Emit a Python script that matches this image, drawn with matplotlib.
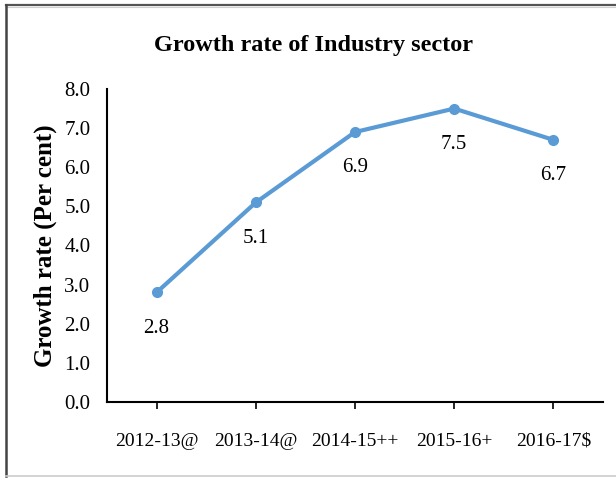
import matplotlib
matplotlib.use("Agg")
import matplotlib.pyplot as plt
from matplotlib.lines import Line2D

categories = ["2012-13@", "2013-14@", "2014-15++", "2015-16+", "2016-17$"]
values = [2.8, 5.1, 6.9, 7.5, 6.7]
yticks = [0.0, 1.0, 2.0, 3.0, 4.0, 5.0, 6.0, 7.0, 8.0]

plt.rcParams['font.family'] = ['Liberation Serif', 'DejaVu Serif']

W, H = 616, 478
fig = plt.figure(figsize=(W/100, H/100), dpi=100)
ax = fig.add_axes([107/W, 1 - 402/H, (603-107)/W, (402-89)/H])

def fx(px):
    return px / W

def fy(py):
    return 1 - py / H

# figure border (frame of the embedded chart)
fig.add_artist(Line2D([fx(6), fx(616)], [fy(5), fy(5)], transform=fig.transFigure,
                      color='#555555', linewidth=1.6))
fig.add_artist(Line2D([fx(6), fx(616)], [fy(7), fy(7)], transform=fig.transFigure,
                      color='#d0d0d0', linewidth=0.8))
fig.add_artist(Line2D([fx(6), fx(6)], [fy(5), fy(476)], transform=fig.transFigure,
                      color='#444444', linewidth=1.8))
fig.add_artist(Line2D([fx(6), fx(616)], [fy(476), fy(476)], transform=fig.transFigure,
                      color='#cccccc', linewidth=1.2))

x = list(range(len(categories)))
line_color = '#5B9BD5'
ax.plot(x, values, color=line_color, linewidth=3, marker='o', markersize=7, zorder=3,
        clip_on=False)
for xi, v in zip(x, values):
    ax.annotate(f"{v:.1f}", (xi, v), xytext=(0, -29), textcoords='offset points',
                ha='center', va='baseline', fontsize=15)

ax.set_xlim(-0.5, 4.5)
ax.set_ylim(0, 8)
ax.set_yticks(yticks)
ax.set_yticklabels([f"{t:.1f}" for t in yticks], fontsize=15)
ax.set_xticks(x)
ax.set_xticklabels(categories, fontsize=14)
ax.tick_params(axis='y', length=0, pad=12)
ax.tick_params(axis='x', length=5, width=1.2, direction='out', pad=17)
for s in ['top', 'right']:
    ax.spines[s].set_visible(False)
for s in ['left', 'bottom']:
    ax.spines[s].set_linewidth(1.5)

ax.set_ylabel("Growth rate (Per cent)", fontsize=18, fontweight='bold', labelpad=5)
fig.text(314/W, 1 - 45/H, "Growth rate of Industry sector", ha='center', va='center',
         fontsize=17.5, fontweight='bold')

fig.savefig("out.png", dpi=100)
